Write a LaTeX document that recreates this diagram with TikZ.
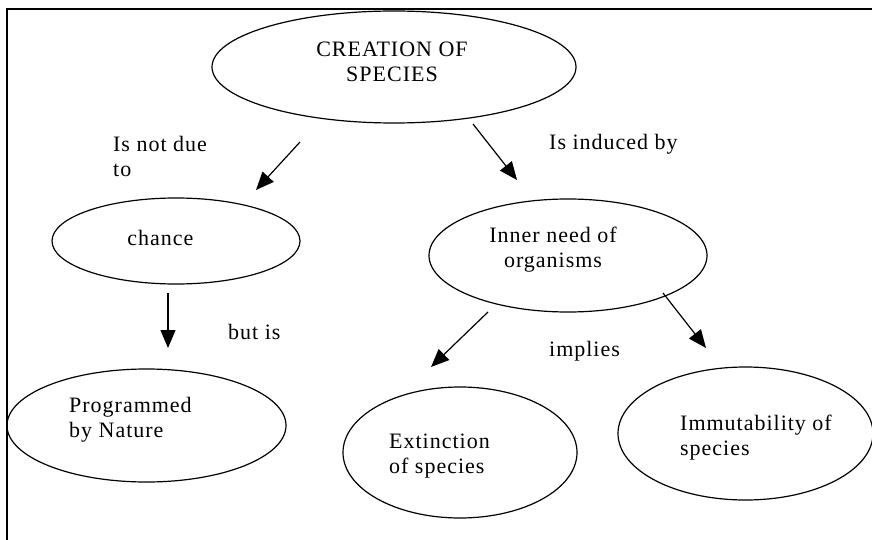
\documentclass[tikz,border=0pt]{standalone}
\usepackage{fontspec}
\setmainfont{Liberation Serif}[LetterSpace=4.5]
\usetikzlibrary{shapes.geometric,arrows.meta}

\tikzset{
  bubble/.style={ellipse, draw, line width=1.2pt, inner sep=0pt},
  txt/.style={inner sep=0pt, font=\fontsize{22}{25}\selectfont},
  link/.style={line width=1.2pt, -{Triangle[length=18pt,width=15pt]}},
  frameline/.style={line width=1.4pt}
}

\begin{document}
\begin{tikzpicture}[x=1pt,y=-1pt]
\useasboundingbox (0,0) rectangle (872,540);

% page frame (top and left edges)
\coordinate (fr1) at (880,9);
\coordinate (fr2) at (7,9);
\coordinate (fr3) at (7,548);
\draw[frameline] (fr1) -- (fr2) -- (fr3);

% concept bubbles
\node[bubble, minimum width=364pt, minimum height=112pt] (creation) at (394,67) {};
\node[bubble, minimum width=248pt, minimum height=86pt]  (chance)   at (176,241) {};
\node[bubble, minimum width=278pt, minimum height=113pt] (inner)    at (568,255.5) {};
\node[bubble, minimum width=279pt, minimum height=113pt] (prog)     at (146.5,425.5) {};
\node[bubble, minimum width=234pt, minimum height=131pt] (ext)      at (460,452.5) {};
\node[bubble, minimum width=255pt, minimum height=133pt] (imm)      at (745.5,433.5) {};

% bubble texts
\node[txt, align=center] (creationT) at (392,61.5) {CREATION OF\\SPECIES};
\node[txt] (chanceT) at (160.5,238) {chance};
\node[txt, align=center] (innerT) at (553,249.5) {Inner need of\\organisms};
\node[txt, align=left, anchor=west] (progT) at (69,419.5) {Programmed\\by Nature};
\node[txt, align=left, anchor=west] (extT) at (389,456.5) {Extinction\\of species};
\node[txt, align=left, anchor=west] (immT) at (680,438) {Immutability of\\species};

% link labels
\node[txt, align=left, anchor=west] (l1) at (113,156) {Is not due\\to};
\node[txt, anchor=west] (l2) at (549,144) {Is induced by};
\node[txt, anchor=west] (l3) at (228,332) {but is};
\node[txt, anchor=west] (l4) at (549,351) {implies};

% arrow end points
\coordinate (a1s) at (300,142); \coordinate (a1e) at (256,190);
\coordinate (a2s) at (473,124); \coordinate (a2e) at (517,180);
\coordinate (a3s) at (168,293); \coordinate (a3e) at (168,348);
\coordinate (a4s) at (488,312); \coordinate (a4e) at (431,367);
\coordinate (a5s) at (663,293); \coordinate (a5e) at (706,348);

\draw[link] (a1s) -- (a1e);
\draw[link] (a2s) -- (a2e);
\draw[link] (a3s) -- (a3e);
\draw[link] (a4s) -- (a4e);
\draw[link] (a5s) -- (a5e);
\end{tikzpicture}
\end{document}
